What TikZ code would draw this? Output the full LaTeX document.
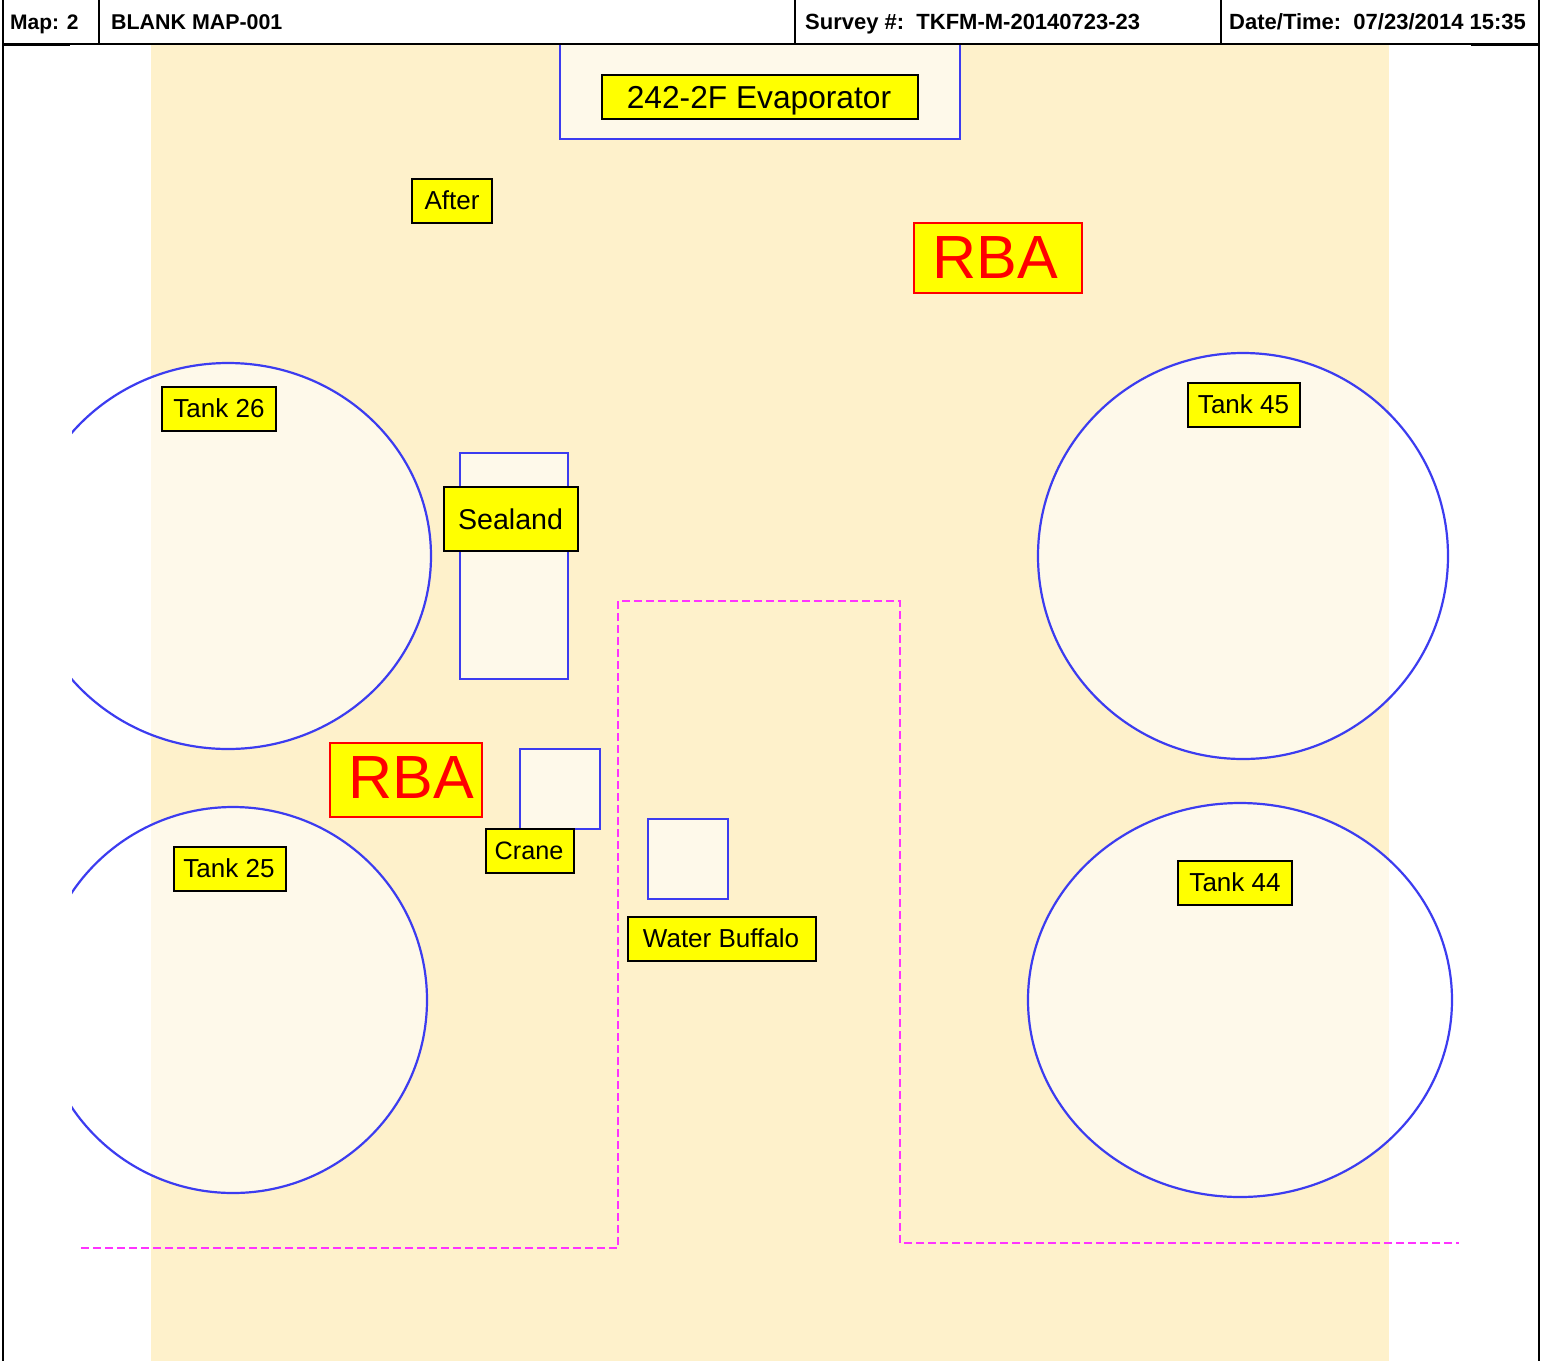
\documentclass[tikz,border=0pt]{standalone}
\usepackage{fontspec}
\setmainfont{Liberation Sans}
\newcommand{\fsz}[1]{\fontsize{#1pt}{#1pt}\selectfont}
\newcommand{\nudge}[3]{\hspace*{#1pt}\raisebox{-#2pt}[0pt][0pt]{#3}\hspace*{-#1pt}}
\definecolor{bandc}{HTML}{FEF1CB}
\definecolor{lineblue}{HTML}{3C3CF0}
\definecolor{dashm}{HTML}{FF33FF}
\definecolor{laby}{RGB}{255,255,0}
\definecolor{labr}{RGB}{255,0,0}
\tikzset{
  x=1pt,y=-1pt,
  framel/.style={draw=black,line width=2pt},
  shapeb/.style={draw=lineblue,fill=white,fill opacity=.6,draw opacity=1,line width=2.2pt},
  tankb/.style={shapeb},
  lbl/.style={draw=black,fill=laby,line width=2pt,inner sep=0pt,align=center,text=black,outer sep=0pt},
  rba/.style={draw=labr,fill=laby,line width=2pt,inner sep=0pt,text=labr,outer sep=0pt},
  barrier/.style={draw=dashm,line width=2.2pt,dash pattern=on 8pt off 4pt},
  head/.style={anchor=base west,inner sep=0pt,font=\bfseries}
}
\begin{document}
\begin{tikzpicture}
\useasboundingbox (0,0) rectangle (1551,1361);
\fill[white] (0,0) rectangle (1551,1361);
\fill[bandc] (151,44) rectangle (1389,1361);
% tanks
\begin{scope}
\clip (72,0) rectangle (1551,1361);
\draw[tankb] (228,556) ellipse [x radius=203,y radius=193];
\draw[tankb] (233,1000) ellipse [x radius=194,y radius=193];
\end{scope}
\draw[tankb] (1243,556) ellipse [x radius=205,y radius=203];
\draw[tankb] (1240,1000) ellipse [x radius=212,y radius=197];
% buildings
\fill[white,fill opacity=.6] (560,44) rectangle (960,139);
\draw[lineblue,line width=2.2pt] (560,44) -- (560,139) -- (960,139) -- (960,44);
\draw[shapeb] (460,453) rectangle (568,679);
\draw[shapeb] (520,749) rectangle (600,829);
\draw[shapeb] (648,819) rectangle (728,899);
% barrier lines
\coordinate (b1) at (81,1248);
\coordinate (b2) at (618,1248);
\coordinate (b3) at (618,601);
\coordinate (b4) at (900,601);
\coordinate (b5) at (900,1243);
\coordinate (b6) at (1459,1243);
\draw[barrier] (b1) -- (b2) -- (b3) -- (b4) -- (b5) -- (b6);
% labels
\node[lbl,minimum width=316pt,minimum height=44pt,font=\fsz{31.7}] (evap) at (760,97) {\nudge{-1}{11}{242-2F Evaporator}};
\node[lbl,minimum width=80pt,minimum height=44pt,font=\fsz{26}] (after) at (452,201) {\nudge{0}{8.5}{After}};
\node[rba,minimum width=168pt,minimum height=70pt,font=\fsz{61}] (rbaa) at (998,258) {\nudge{-3}{20}{RBA}};
\node[lbl,minimum width=114pt,minimum height=44pt,font=\fsz{26}] (t26) at (219,409) {\nudge{0}{8.5}{Tank 26}};
\node[lbl,minimum width=112pt,minimum height=44pt,font=\fsz{26}] (t45) at (1244,405) {\nudge{-0.5}{8.5}{Tank 45}};
\node[lbl,minimum width=134pt,minimum height=64pt,font=\fsz{28.6}] (seal) at (511,519) {\nudge{-0.5}{10}{Sealand}};
\node[rba,minimum width=152pt,minimum height=74pt,font=\fsz{61}] (rbab) at (406,780) {\nudge{5}{18.5}{RBA}};
\node[lbl,minimum width=88pt,minimum height=44pt,font=\fsz{25.2}] (crane) at (530,851) {\nudge{-1}{8.5}{Crane}};
\node[lbl,minimum width=188pt,minimum height=44pt,font=\fsz{26}] (wb) at (722,939) {\nudge{-1}{8.5}{Water Buffalo}};
\node[lbl,minimum width=112pt,minimum height=44pt,font=\fsz{26}] (t25) at (230,869) {\nudge{-1}{8.5}{Tank 25}};
\node[lbl,minimum width=114pt,minimum height=44pt,font=\fsz{26}] (t44) at (1235,883) {\nudge{0}{8.5}{Tank 44}};
% header frame
\fill[white] (3,0) rectangle (1539,43);
\draw[framel] (3,0) -- (3,1361);
\draw[framel] (1539,0) -- (1539,1361);
\draw[framel] (3,43.5) -- (1539,43.5);
\draw[framel] (3,44.5) -- (70,44.5);
\draw[framel] (1471,44.5) -- (1539,44.5);
\draw[framel] (99,0) -- (99,43);
\draw[framel] (795,0) -- (795,43);
\draw[framel] (1221,0) -- (1221,43);
\node[head,font=\fsz{21}\bfseries] (hmap) at (10,29) {Map: 2};
\node[head,font=\fsz{21.4}\bfseries] (hblank) at (111,29) {BLANK MAP-001};
\node[head,font=\fsz{22}\bfseries] (hsurv) at (805,29) {Survey \#:\ \ TKFM-M-20140723-23};
\node[head,font=\fsz{22}\bfseries] (hdate) at (1229,29) {Date/Time:\ \ 07/23/2014 15:35};
\end{tikzpicture}
\end{document}
